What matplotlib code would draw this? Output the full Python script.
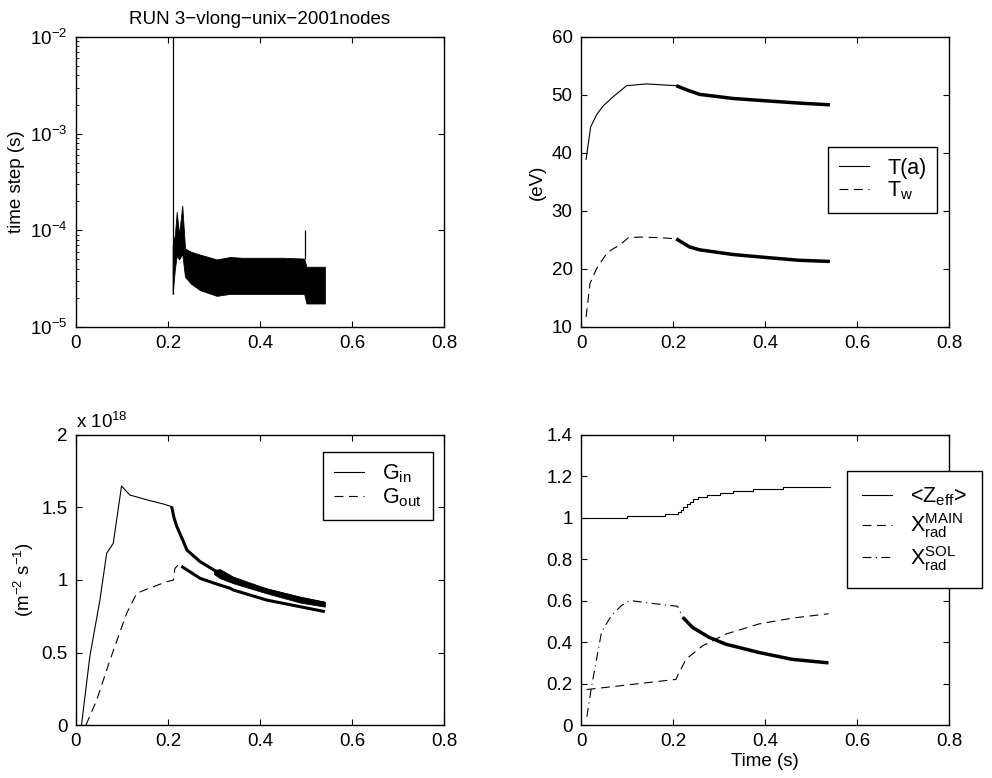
import numpy as np
import matplotlib.pyplot as plt

plt.rcParams['font.family'] = ['Liberation Sans', 'DejaVu Sans']
plt.rcParams['mathtext.fontset'] = 'custom'
plt.rcParams['mathtext.rm'] = 'Liberation Sans'
plt.rcParams['mathtext.it'] = 'Liberation Sans:italic'
plt.rcParams['font.size'] = 13.5

# --- time step (top left), noisy band given by its envelopes
dt_x = [0.210, 0.215, 0.219, 0.224, 0.231, 0.237, 0.250, 0.270, 0.306, 0.335, 0.360, 0.414, 0.450, 0.496, 0.501, 0.541]
dt_hi = [7e-5, 9e-5, 1.55e-4, 9e-5, 1.8e-4, 6.5e-5, 6e-5, 5.6e-5, 5.0e-5, 5.3e-5, 5.2e-5, 5.2e-5, 5.2e-5, 5.1e-5, 4.2e-5, 4.2e-5]
dt_lo = [2.2e-5, 4e-5, 5.5e-5, 5e-5, 5.7e-5, 3.3e-5, 2.8e-5, 2.4e-5, 2.1e-5, 2.2e-5, 2.2e-5, 2.2e-5, 2.2e-5, 2.2e-5, 1.75e-5, 1.75e-5]
spike_x = [0.210, 0.497]
spike_lo = [2.2e-5, 5e-5]
spike_hi = [1e-2, 1e-4]

# --- temperatures (top right)
ta_x = [0.011, 0.021, 0.034, 0.048, 0.070, 0.099, 0.142, 0.207]
ta_y = [38.9, 44.5, 46.6, 48.1, 49.7, 51.6, 51.9, 51.6]
ta2_x = [0.207, 0.229, 0.258, 0.330, 0.400, 0.474, 0.541]
ta2_y = [51.6, 50.9, 50.1, 49.4, 49.0, 48.6, 48.3]
tw_x = [0.011, 0.0195, 0.034, 0.056, 0.070, 0.084, 0.103, 0.128, 0.171, 0.207]
tw_y = [11.7, 17.5, 20.1, 22.7, 23.5, 24.1, 25.4, 25.5, 25.4, 25.2]
tw2_x = [0.207, 0.236, 0.258, 0.330, 0.400, 0.474, 0.541]
tw2_y = [25.2, 23.8, 23.3, 22.5, 22.0, 21.5, 21.3]

# --- fluxes in units of 1e18 (bottom left)
gin_x = [0.012, 0.030, 0.052, 0.0667, 0.081, 0.099, 0.117, 0.161, 0.190, 0.208]
gin_y = [0.0, 0.471, 0.862, 1.184, 1.253, 1.648, 1.586, 1.547, 1.524, 1.506]
gin2_x = [0.208, 0.213, 0.219, 0.232, 0.241, 0.270, 0.306, 0.342, 0.414, 0.487, 0.541]
gin2_y = [1.506, 1.43, 1.37, 1.276, 1.207, 1.126, 1.057, 1.0, 0.931, 0.874, 0.839]
gin_band_x = [0.300, 0.313, 0.342, 0.414, 0.487, 0.541]
gin_band_hi = [1.07, 1.075, 1.023, 0.943, 0.885, 0.85]
gin_band_lo = [1.04, 1.012, 0.977, 0.908, 0.844, 0.816]
gout_x = [0.0217, 0.045, 0.074, 0.110, 0.132, 0.154, 0.197, 0.212, 0.215, 0.226]
gout_y = [0.0, 0.172, 0.448, 0.77, 0.908, 0.937, 0.988, 1.0, 1.08, 1.115]
gout2_x = [0.229, 0.270, 0.306, 0.335, 0.342, 0.414, 0.487, 0.541]
gout2_y = [1.095, 1.011, 0.972, 0.943, 0.931, 0.862, 0.816, 0.782]

# --- Zeff and radiated fractions (bottom right)
zeff_x = [0.0, 0.099, 0.183, 0.211, 0.217, 0.222, 0.230, 0.237, 0.244, 0.255, 0.273, 0.302, 0.330, 0.374, 0.440, 0.541]
zeff_y = [1.0, 1.01, 1.02, 1.03, 1.04, 1.05, 1.065, 1.075, 1.09, 1.10, 1.11, 1.12, 1.13, 1.14, 1.15, 1.15]
xmain_x = [0.0123, 0.17, 0.206, 0.228, 0.264, 0.315, 0.387, 0.459, 0.538]
xmain_y = [0.171, 0.211, 0.22, 0.317, 0.382, 0.439, 0.488, 0.516, 0.537]
xsol_x = [0.0127, 0.023, 0.0447, 0.066, 0.088, 0.106, 0.163, 0.210, 0.221]
xsol_y = [0.04, 0.187, 0.45, 0.528, 0.577, 0.601, 0.585, 0.573, 0.520]
xsol2_x = [0.221, 0.2425, 0.2786, 0.315, 0.387, 0.459, 0.538]
xsol2_y = [0.520, 0.471, 0.423, 0.39, 0.35, 0.317, 0.30]

DASH = (8, 5)
DASHDOT = (8, 4, 1, 4)


def style(ax):
    ax.set_xlim(0, 0.8)
    ax.set_xticks([0, 0.2, 0.4, 0.6, 0.8])
    ax.set_xticklabels(['0', '0.2', '0.4', '0.6', '0.8'])
    ax.tick_params(direction='in', top=True, right=True, length=4, width=0.8, pad=6)
    ax.tick_params(which='minor', direction='in', length=2, width=0.6)
    for s in ax.spines.values():
        s.set_linewidth(1.0)


def legend(ax, x, y, spacing=0.05, pad=0.4):
    lg = ax.legend(loc='upper left', bbox_to_anchor=(x, y), borderaxespad=0,
                   fancybox=False, edgecolor='black', framealpha=1,
                   handlelength=1.4, handletextpad=0.85, labelspacing=spacing,
                   borderpad=pad, fontsize=15.5)
    lg.get_frame().set_linewidth(1.0)
    return lg


fig = plt.figure(figsize=(9.92, 7.78), dpi=100)
ax1 = fig.add_axes([0.0766, 0.5797, 0.371, 0.3728])
ax2 = fig.add_axes([0.5857, 0.5797, 0.371, 0.3728])
ax3 = fig.add_axes([0.0766, 0.0681, 0.371, 0.3728])
ax4 = fig.add_axes([0.5857, 0.0681, 0.371, 0.3728])

# top left
ax1.set_yscale('log')
ax1.fill_between(dt_x, dt_lo, dt_hi, color='black', lw=0.6)
ax1.vlines(spike_x, spike_lo, spike_hi, color='black', lw=0.9)
ax1.set_ylim(1e-5, 1e-2)
style(ax1)
ax1.set_ylabel('time step (s)')
ax1.set_title('RUN 3\u2212vlong\u2212unix\u22122001nodes', fontsize=13.5, pad=9)

# top right
ax2.plot(ta_x, ta_y, color='black', lw=0.8, label='T(a)')
ax2.plot(ta2_x, ta2_y, color='black', lw=2.5, solid_capstyle='butt')
ax2.plot(tw_x, tw_y, color='black', lw=0.8, dashes=DASH, label=r'T$_{\mathrm{w}}$')
ax2.plot(tw2_x, tw2_y, color='black', lw=2.5, solid_capstyle='butt')
ax2.set_ylim(10, 60)
ax2.set_yticks([10, 20, 30, 40, 50, 60])
style(ax2)
ax2.set_ylabel('(eV)')
legend(ax2, 0.671, 0.621, pad=0.5)

# bottom left
ax3.plot(gin_x, gin_y, color='black', lw=0.8, label=r'G$_{\mathrm{in}}$')
ax3.plot(gin2_x, gin2_y, color='black', lw=2.2, solid_capstyle='butt')
ax3.fill_between(gin_band_x, gin_band_lo, gin_band_hi, color='black', lw=0.5)
ax3.plot(gout_x, gout_y, color='black', lw=0.8, dashes=DASH, label=r'G$_{\mathrm{out}}$')
ax3.plot(gout2_x, gout2_y, color='black', lw=2.2, solid_capstyle='butt')
ax3.set_ylim(0, 2)
ax3.set_yticks([0, 0.5, 1, 1.5, 2])
ax3.set_yticklabels(['0', '0.5', '1', '1.5', '2'])
style(ax3)
ax3.set_ylabel(r'(m$^{-2}$ s$^{-1}$)')
ax3.text(0.0, 1.01, r'x 10$^{18}$', transform=ax3.transAxes, ha='left', va='bottom')
legend(ax3, 0.671, 0.941, pad=0.5)

# bottom right
ax4.plot(zeff_x, zeff_y, color='black', lw=0.8, drawstyle='steps-post',
         label=r'<Z$_{\mathrm{eff}}$>')
ax4.plot(xmain_x, xmain_y, color='black', lw=0.8, dashes=DASH,
         label=r'X$^{\mathrm{MAIN}}_{\mathrm{rad}}$')
ax4.plot(xsol_x, xsol_y, color='black', lw=0.8, dashes=DASHDOT,
         label=r'X$^{\mathrm{SOL}}_{\mathrm{rad}}$')
ax4.plot(xsol2_x, xsol2_y, color='black', lw=2.5, solid_capstyle='butt')
ax4.set_ylim(0, 1.4)
ax4.set_yticks([0, 0.2, 0.4, 0.6, 0.8, 1, 1.2, 1.4])
ax4.set_yticklabels(['0', '0.2', '0.4', '0.6', '0.8', '1', '1.2', '1.4'])
style(ax4)
ax4.set_xlabel('Time (s)', labelpad=2)
legend(ax4, 0.722, 0.877, spacing=0.15, pad=0.7)

fig.savefig('out.png', dpi=100)
